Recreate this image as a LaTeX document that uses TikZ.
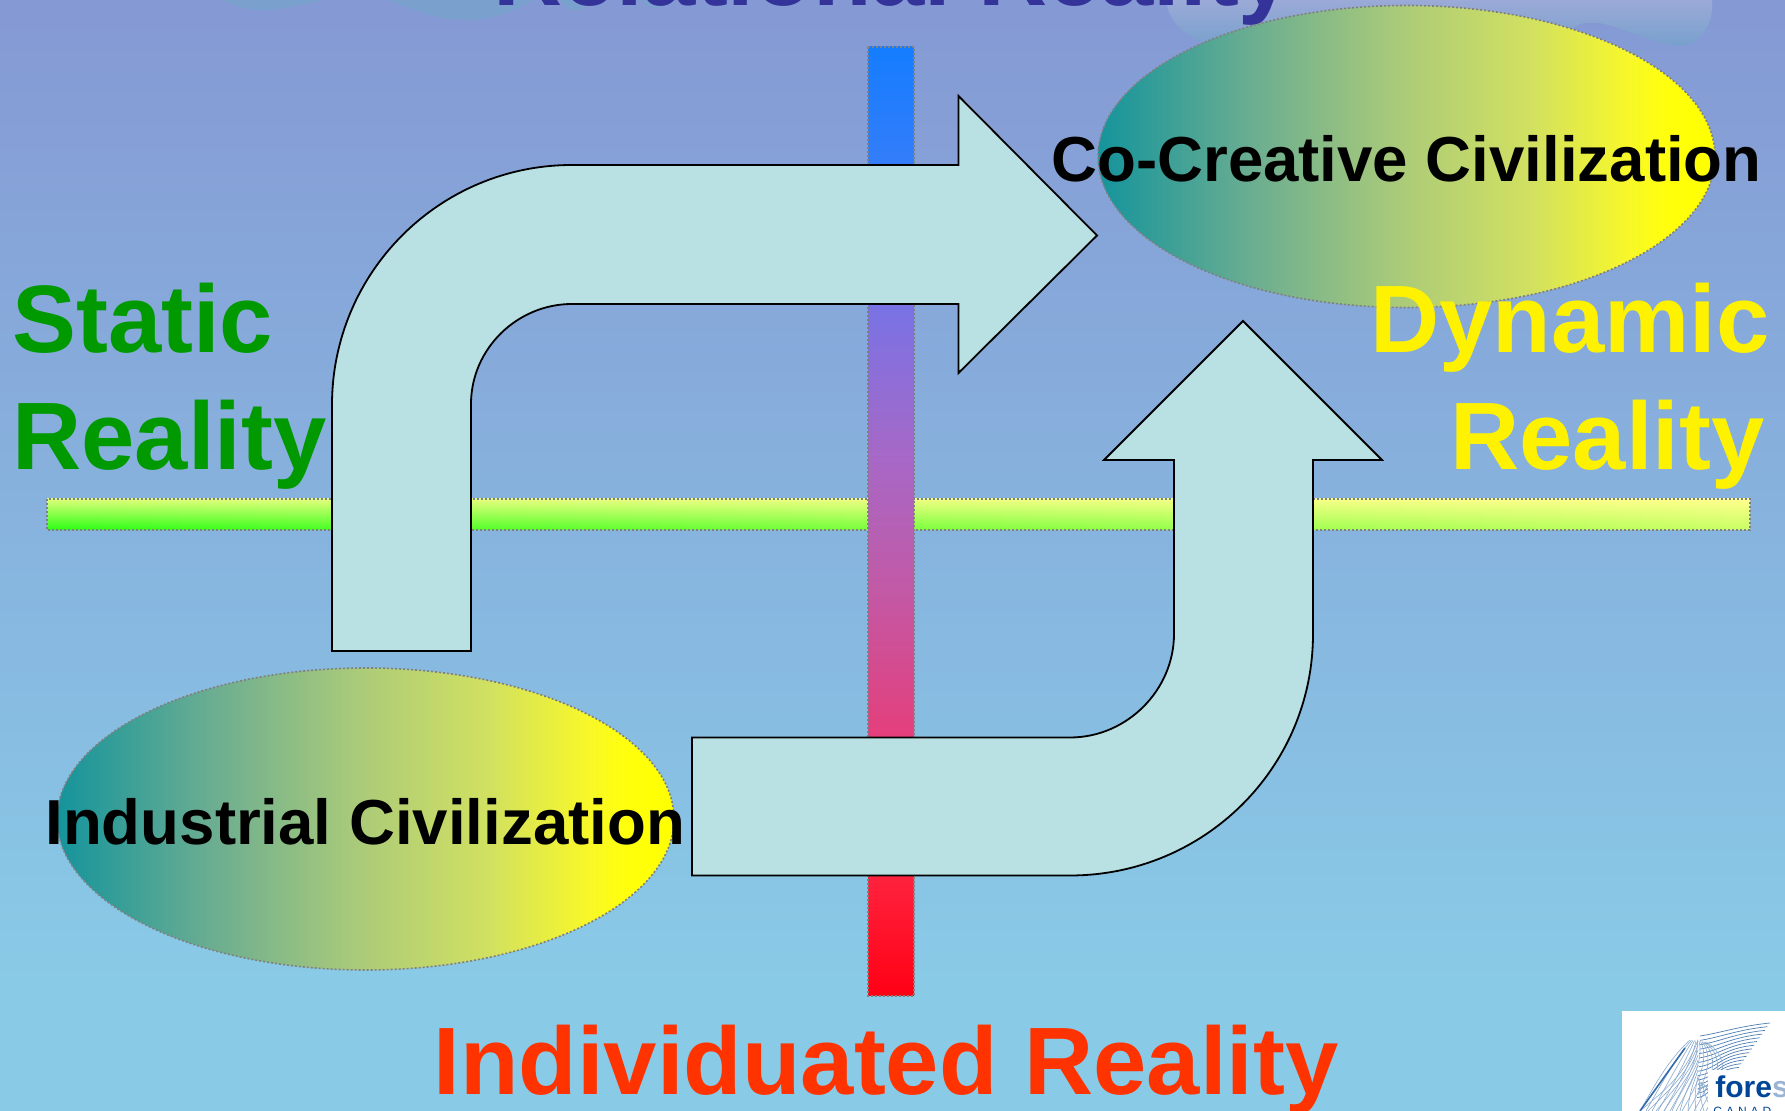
\documentclass[tikz,border=0pt]{standalone}
\usepackage{fontspec}
\setmainfont{Liberation Sans}
\usetikzlibrary{shapes.geometric}
\definecolor{bgtop}{RGB}{133,153,212}
\definecolor{bgbot}{RGB}{137,203,231}
\definecolor{arrowfill}{RGB}{185,224,226}
\definecolor{dotgray}{RGB}{128,128,128}
\definecolor{statgreen}{RGB}{0,153,0}
\definecolor{indred}{RGB}{255,51,0}
\definecolor{relblue}{RGB}{51,51,153}
\definecolor{hTL}{RGB}{220,255,120}
\definecolor{hTR}{RGB}{255,255,140}
\definecolor{hBL}{RGB}{40,255,20}
\definecolor{hBR}{RGB}{200,255,100}
\definecolor{logoblue}{RGB}{0,70,150}
\pgfdeclarehorizontalshading{ellshade}{100bp}{
 rgb(0bp)=(0.08,0.58,0.61);
 rgb(25bp)=(0.08,0.58,0.61);
 rgb(37.5bp)=(0.42,0.68,0.57);
 rgb(50bp)=(0.68,0.80,0.47);
 rgb(60bp)=(0.82,0.88,0.38);
 rgb(68bp)=(0.97,0.97,0.16);
 rgb(71bp)=(1,1,0.05);
 rgb(75bp)=(1,1,0);
 rgb(100bp)=(1,1,0)}
\pgfdeclareverticalshading{vbarshade}{100bp}{
 rgb(0bp)=(1,0,0.08);
 rgb(25bp)=(1,0,0.08);
 rgb(30.5bp)=(1,0.12,0.22);
 rgb(39bp)=(0.89,0.25,0.49);
 rgb(46.5bp)=(0.76,0.35,0.65);
 rgb(53.5bp)=(0.65,0.41,0.78);
 rgb(61.5bp)=(0.47,0.45,0.90);
 rgb(69bp)=(0.20,0.49,0.98);
 rgb(75bp)=(0.08,0.49,1);
 rgb(100bp)=(0.08,0.49,1)}
\tikzset{
 bigtext/.style={font=\bfseries\fontsize{47.9}{47.9}\selectfont,inner sep=0pt},
 civtext/.style={font=\bfseries\fontsize{31.8}{31.8}\selectfont,inner sep=0pt,text=black},
 dotborder/.style={draw=dotgray,line width=0.8pt,dash pattern=on 1pt off 1pt},
 civell/.style={ellipse,shading=ellshade,dotborder,inner sep=0pt,minimum width=308.5pt,minimum height=151pt},
 bentarrow/.style={draw=black,line width=0.9pt,fill=arrowfill,line join=miter},
 logoline/.style={draw=logoblue!70!white,line width=0.35pt},
}
\begin{document}
\begin{tikzpicture}[x=0.5pt,y=-0.5pt]
\useasboundingbox (0,0) rectangle (1785,1111);
% background
\fill[bgbot] (0,990) rectangle (1785,1111);
\shade[top color=bgtop,bottom color=bgbot] (0,0) rectangle (1785,1000);
% clouds
\definecolor{cloudL}{RGB}{122,160,205}
\definecolor{cloudT}{RGB}{155,170,215}
\definecolor{cloudB}{RGB}{120,160,205}
\fill[cloudL] (222,0) .. controls (240,8) and (250,10) .. (263,10) .. controls (280,10) and (300,5) .. (325,0) -- cycle;
\fill[cloudL] (387,0) .. controls (420,12) and (440,20) .. (465,20) .. controls (495,20) and (515,10) .. (535,0) -- cycle;
\fill[cloudL] (560,0) .. controls (565,7) and (570,11) .. (575,11) .. controls (582,11) and (588,6) .. (592,0) -- cycle;
\fill[cloudL] (640,0) .. controls (645,5) and (650,8) .. (655,8) .. controls (662,8) and (668,4) .. (672,0) -- cycle;
\shade[top color=cloudT,bottom color=cloudB] (1166,0) .. controls (1168,18) and (1180,35) .. (1210,45) -- (1560,45)
 .. controls (1570,25) and (1580,21) .. (1600,23) .. controls (1630,30) and (1660,46) .. (1682,46)
 .. controls (1700,44) and (1714,25) .. (1712,0) -- cycle;
% title
\node[bigtext,text=relblue,anchor=base] (reltitle) at (893,6) {Relational Reality};
% bars
\foreach \i in {0,...,63}{
 \pgfmathsetmacro{\p}{100*(\i+0.5)/64}
 \pgfmathsetmacro{\xa}{47+\i*26.61}
 \pgfmathsetmacro{\xb}{47+(\i+1)*26.61+(\i<63 ? 1 : 0)}
 \shade[top color=hTR!\p!hTL,bottom color=hBR!\p!hBL] (\xa,499) rectangle (\xb,530);
}
\draw[dotborder] (47,499) rectangle (1750,530);
\shade[shading=vbarshade,dotborder] (868,47) rectangle (914,996);
% ellipses
\node[civell] (indell) at (365.5,819) {};
\node[civell] (coell) at (1406.5,156.5) {};
% arrows
\draw[bentarrow] (332,651) -- (332,405) .. controls (332,272.4) and (439.4,165) .. (572,165)
 -- (958.5,165) -- (958.5,96) -- (1097,235.5) -- (958.5,373) -- (958.5,304) -- (572,304)
 .. controls (517,304) and (471,349) .. (471,404) -- (471,651) -- cycle;
\draw[bentarrow] (692,737.5) -- (1070,737.5) .. controls (1127,737.5) and (1174,690) .. (1174,634)
 -- (1174,460) -- (1104,460) -- (1243,321) -- (1382,460) -- (1313,460) -- (1313,634)
 .. controls (1313,768) and (1204,875.5) .. (1070,875.5) -- (692,875.5) -- cycle;
% logo
\fill[white] (1622,1011) rectangle (1785,1111);
\begin{scope}
\clip (1622,1011) rectangle (1785,1111);
\foreach \i in {0,...,14}{
 \pgfmathsetmacro{\rx}{1770-\i*2.6}
 \pgfmathsetmacro{\ry}{1023+\i*3.7}
 \pgfmathsetmacro{\lx}{1700-\i*0.2}
 \pgfmathsetmacro{\ly}{1036+\i*4.4}
 \draw[logoline] (\lx,\ly) .. controls ({\lx+20},{\ly-3}) and ({\rx-30},{\ry+3}) .. (\rx,\ry);
}
\foreach \i in {0,...,11}{
 \pgfmathsetmacro{\bx}{1640+\i*6}
 \draw[draw=logoblue!45!white,line width=0.3pt] (\bx,1111) .. controls ({\bx+15},1085) and ({\bx+28},1060) .. ({1690+\i*1.5},{1040+\i*0.2});
 \draw[draw=logoblue!45!white,line width=0.3pt] ({1640+\i*8},1111) .. controls ({1665+\i*4},1090) and ({1685+\i*2},1075) .. (1698,{1040+\i*5});
}
\draw[draw=logoblue!80!white,line width=0.8pt] (1640,1111) -- (1685,1048);
\fill[white] (1708,1070) rectangle (1785,1111);
\node[font=\bfseries\fontsize{15}{15}\selectfont,text=logoblue,anchor=base west,inner sep=0pt] (logotext) at (1715,1098) {fore\textcolor{logoblue!40!white}{s}};
\node[font=\fontsize{6}{6}\selectfont,text=logoblue,anchor=base west,inner sep=0pt] (logosub) at (1713,1116) {C\,\,A\,\,N\,\,A\,\,D};
\end{scope}
% labels
\node[bigtext,text=statgreen,anchor=base west] (static) at (12,353) {Static};
\node[bigtext,text=statgreen,anchor=base west] (realityl) at (12,470) {Reality};
\node[bigtext,text=yellow,anchor=base east] (dynamic) at (1770,353) {Dynamic};
\node[bigtext,text=yellow,anchor=base east] (realityr) at (1765,470) {Reality};
\node[bigtext,text=indred,anchor=base] (indiv) at (886,1095) {Individuated Reality};
\node[civtext,anchor=base west] (indlabel) at (45,845) {Industrial Civilization};
\node[civtext,anchor=base west] (colabel) at (1051,182) {Co-Creative Civilization};
\end{tikzpicture}
\end{document}
